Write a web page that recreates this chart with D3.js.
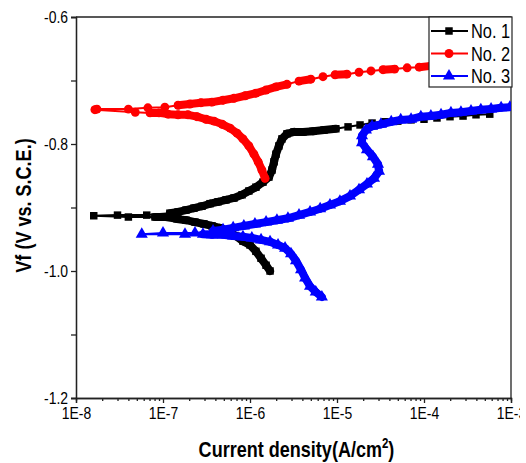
<!DOCTYPE html>
<html>
<head>
    <meta charset="utf-8">
    <title>Tafel curves</title>
    <script src="https://cdnjs.cloudflare.com/ajax/libs/d3/7.8.5/d3.min.js"></script>
    <style>
        body { margin: 0; background: #fff; }
        svg text { font-family: "Liberation Sans Narrow", "Arial Narrow", "Liberation Sans", Arial, sans-serif; fill: #000; }
    </style>
</head>

<body>

<script type="text/javascript">
    // data: current density (A/cm2) and potential (V vs SCE)
    var seriesNames = ["No. 1", "No. 2", "No. 3"];

    var no1Current = [1.7e-6, 1.53e-6, 1.34e-6, 1.17e-6, 1.0e-6, 8.3e-7, 6.9e-7, 5.6e-7, 4.5e-7, 3.66e-7,
        2.96e-7, 2.33e-7, 1.84e-7, 1.45e-7, 1.08e-7, 8.1e-8, 4.0e-8, 1.6e-8, 3.0e-8, 6.5e-8,
        1.2e-7, 1.49e-7, 1.84e-7, 2.27e-7, 2.81e-7, 3.47e-7, 4.29e-7, 5.3e-7, 6.55e-7, 8.1e-7,
        9.7e-7, 1.17e-6, 1.41e-6, 1.65e-6, 1.79e-6, 1.89e-6, 1.99e-6, 2.15e-6, 2.33e-6, 2.66e-6,
        3.2e-6, 4.07e-6, 5.3e-6, 7.1e-6, 9.7e-6, 1.34e-5, 1.84e-5, 2.53e-5, 3.56e-5, 5.0e-5,
        7.1e-5, 1.0e-4, 1.41e-4, 1.99e-4, 2.81e-4, 3.96e-4, 5.7e-4];
    var no1Potential = [-1.000, -0.991, -0.980, -0.969, -0.959, -0.953, -0.945, -0.937, -0.932, -0.929,
        -0.926, -0.923, -0.920, -0.918, -0.915, -0.915, -0.915, -0.913, -0.912, -0.912,
        -0.909, -0.907, -0.904, -0.901, -0.898, -0.894, -0.891, -0.888, -0.885, -0.880,
        -0.874, -0.868, -0.860, -0.852, -0.841, -0.828, -0.816, -0.803, -0.792, -0.784,
        -0.781, -0.781, -0.780, -0.778, -0.776, -0.773, -0.770, -0.767, -0.765, -0.764,
        -0.762, -0.761, -0.759, -0.757, -0.756, -0.754, -0.753];

    var no2Current = [1.49e-6, 1.37e-6, 1.24e-6, 1.11e-6, 9.7e-7, 8.3e-7, 7.1e-7, 5.9e-7, 4.8e-7, 3.86e-7,
        3.12e-7, 2.46e-7, 1.94e-7, 1.49e-7, 1.14e-7, 9.0e-8, 7.1e-8, 4.8e-8, 1.65e-8, 1.74e-8,
        4.0e-8, 6.7e-8, 1.05e-7, 1.49e-7, 2.04e-7, 2.73e-7, 3.66e-7, 4.9e-7, 6.55e-7, 8.8e-7,
        1.17e-6, 1.53e-6, 1.99e-6, 2.66e-6, 3.66e-6, 5.0e-6, 6.9e-6, 9.5e-6, 1.30e-5, 1.79e-5,
        2.46e-5, 3.38e-5, 4.6e-5, 6.4e-5, 8.8e-5, 1.20e-4, 1.74e-4, 2.46e-4, 3.38e-4, 4.6e-4,
        6.55e-4, 9.2e-4];
    var no2Potential = [-0.854, -0.841, -0.828, -0.816, -0.803, -0.792, -0.783, -0.775, -0.769, -0.764,
        -0.761, -0.757, -0.754, -0.754, -0.753, -0.751, -0.751, -0.750, -0.746, -0.745,
        -0.745, -0.743, -0.742, -0.739, -0.737, -0.735, -0.734, -0.731, -0.728, -0.724,
        -0.720, -0.715, -0.710, -0.706, -0.701, -0.698, -0.694, -0.691, -0.690, -0.687,
        -0.685, -0.683, -0.682, -0.680, -0.679, -0.677, -0.676, -0.674, -0.674, -0.672,
        -0.672, -0.671];

    var no3Current = [6.7e-6, 5.7e-6, 4.9e-6, 4.3e-6, 3.86e-6, 3.38e-6, 2.96e-6, 2.53e-6, 2.1e-6, 1.70e-6,
        1.34e-6, 1.05e-6, 8.3e-7, 6.4e-7, 4.9e-7, 3.66e-7, 2.88e-7, 1.79e-7, 5.7e-8, 1.0e-7,
        2.33e-7, 3.76e-7, 4.9e-7, 6.4e-7, 8.5e-7, 1.14e-6, 1.53e-6, 2.04e-6, 2.73e-6, 3.66e-6,
        4.9e-6, 6.4e-6, 8.3e-6, 1.08e-5, 1.41e-5, 1.79e-5, 2.21e-5, 2.66e-5, 3.04e-5, 2.96e-5,
        2.59e-5, 2.21e-5, 1.94e-5, 1.94e-5, 2.15e-5, 2.53e-5, 3.2e-5, 4.2e-5, 5.4e-5, 7.1e-5,
        9.2e-5, 1.20e-4, 1.57e-4, 2.04e-4, 2.66e-4, 3.47e-4, 4.5e-4, 5.9e-4, 7.7e-4, 9.7e-4];
    var no3Potential = [-1.041, -1.033, -1.024, -1.011, -0.998, -0.984, -0.973, -0.964, -0.959, -0.954,
        -0.951, -0.948, -0.946, -0.945, -0.943, -0.943, -0.942, -0.942, -0.942, -0.940,
        -0.940, -0.937, -0.935, -0.932, -0.929, -0.926, -0.923, -0.920, -0.917, -0.912,
        -0.907, -0.902, -0.896, -0.890, -0.882, -0.872, -0.863, -0.854, -0.843, -0.832,
        -0.820, -0.809, -0.798, -0.787, -0.778, -0.772, -0.769, -0.765, -0.762, -0.761,
        -0.757, -0.756, -0.754, -0.751, -0.750, -0.748, -0.746, -0.745, -0.743, -0.742];

    var xTickValues = [1e-8, 1e-7, 1e-6, 1e-5, 1e-4, 1e-3];
    var xTickLabels = ["1E-8", "1E-7", "1E-6", "1E-5", "1E-4", "1E-3"];
    var yTickValues = [-1.2, -1.0, -0.8, -0.6];
    var yMinorValues = [-1.1, -0.9, -0.7];

    var width = 520,
        height = 463,
        plotLeft = 76, plotRight = 511, plotTop = 17, plotBottom = 398,
        colors = ["#000000", "#ff0000", "#0000ff"],
        symbols = [d3.symbolSquare, d3.symbolCircle, d3.symbolTriangle],
        symbolSizes = [56, 62, 64],
        narrow = 0.82,  // the original uses a condensed face
        bandGap = 12;   // markers closer than this merge into a solid band

    var series = [
        {name: seriesNames[0], current: no1Current, potential: no1Potential},
        {name: seriesNames[1], current: no2Current, potential: no2Potential},
        {name: seriesNames[2], current: no3Current, potential: no3Potential}
    ];

    var svg = d3.select("body").append("svg")
        .attr("width", width)
        .attr("height", height);

    var x = d3.scaleLog().domain([1e-8, 1e-3]).range([plotLeft, plotRight]);
    var y = d3.scaleLinear().domain([-1.2, -0.6]).range([plotBottom, plotTop]);

    svg.append("defs").append("clipPath").attr("id", "plot")
        .append("rect")
        .attr("x", plotLeft).attr("y", plotTop)
        .attr("width", plotRight - plotLeft).attr("height", plotBottom - plotTop);

    // minor x ticks at 2..9 of every decade
    var xMinor = [];
    xTickValues.slice(0, -1).forEach(function(d){
        for (var k = 2; k <= 9; k++) xMinor.push(d * k);
    });

    svg.append("g")
        .attr("transform", "translate(0," + plotBottom + ")")
        .call(d3.axisBottom(x).tickValues(xMinor).tickSize(3).tickFormat(""));

    svg.append("g")
        .attr("class", "xaxis")
        .attr("transform", "translate(0," + plotBottom + ")")
        .call(d3.axisBottom(x)
            .tickValues(xTickValues)
            .tickSize(5)
            .tickPadding(4)
            .tickFormat(function(d, i){ return xTickLabels[i]; }));

    svg.append("g")
        .attr("transform", "translate(" + plotLeft + ",0)")
        .call(d3.axisLeft(y).tickValues(yMinorValues).tickSize(5).tickFormat(""));

    svg.append("g")
        .attr("class", "yaxis")
        .attr("transform", "translate(" + plotLeft + ",0)")
        .call(d3.axisLeft(y)
            .tickValues(yTickValues)
            .tickSize(5)
            .tickPadding(3)
            .tickFormat(function(d){ return d.toFixed(1); }));

    svg.selectAll(".domain, .tick line")
        .attr("stroke", "#222")
        .attr("stroke-width", 1.3);
    svg.selectAll(".xaxis text, .yaxis text")
        .style("font-size", "17px");

    // top and right frame
    svg.append("path")
        .attr("d", "M" + plotLeft + "," + plotTop + "H" + plotRight + "V" + plotBottom)
        .attr("fill", "none")
        .attr("stroke", "#222")
        .attr("stroke-width", 1.3);

    var plot = svg.append("g").attr("clip-path", "url(#plot)");

    series.forEach(function(s, si){
        var pts = s.current.map(function(c, i){ return [x(c), y(s.potential[i])]; });

        plot.append("path")
            .attr("d", d3.line()(pts))
            .attr("fill", "none")
            .attr("stroke", colors[si])
            .attr("stroke-width", 2);

        // dense runs of overlapping markers read as a thick band
        for (var i = 1; i < pts.length; i++) {
            var dx = pts[i][0] - pts[i - 1][0], dy = pts[i][1] - pts[i - 1][1];
            if (Math.sqrt(dx * dx + dy * dy) < bandGap) {
                plot.append("line")
                    .attr("x1", pts[i - 1][0]).attr("y1", pts[i - 1][1])
                    .attr("x2", pts[i][0]).attr("y2", pts[i][1])
                    .attr("stroke", colors[si])
                    .attr("stroke-width", 8)
                    .attr("stroke-linecap", "round");
            }
        }

        plot.selectAll(".m" + si)
            .data(pts)
            .enter().append("path")
            .attr("class", "m" + si)
            .attr("transform", function(d){ return "translate(" + d[0] + "," + d[1] + ")"; })
            .attr("d", d3.symbol().type(symbols[si]).size(symbolSizes[si]))
            .attr("fill", colors[si]);
    });

    // legend
    var legendLeft = 429;
    var legend = svg.append("g").attr("transform", "translate(" + legendLeft + "," + plotTop + ")");
    legend.append("rect")
        .attr("width", plotRight + 1 - legendLeft).attr("height", 70)
        .attr("fill", "#fff")
        .attr("stroke", "#222")
        .attr("stroke-width", 1.2);

    series.forEach(function(s, si){
        var g = legend.append("g").attr("transform", "translate(0," + (14 + si * 22.5) + ")");
        g.append("line")
            .attr("x1", 2).attr("x2", 39)
            .attr("stroke", colors[si]).attr("stroke-width", 2);
        g.append("path")
            .attr("transform", "translate(20,0)")
            .attr("d", d3.symbol().type(symbols[si]).size(symbolSizes[si]))
            .attr("fill", colors[si]);
        g.append("text")
            .attr("class", "squeeze")
            .attr("x", 42).attr("dy", "0.36em")
            .style("font-size", "20px")
            .text(s.name);
    });

    svg.selectAll(".xaxis text, .yaxis text").classed("squeeze", true);

    // y title
    svg.append("text")
        .attr("class", "squeeze")
        .attr("transform", "translate(31," + ((plotTop + plotBottom) / 2 - 2) + ") rotate(-90)")
        .attr("text-anchor", "middle")
        .style("font-size", "22px").style("font-weight", "bold")
        .text("Vf (V vs. S.C.E.)");

    // squeeze single-run labels to the condensed width of the original face
    svg.selectAll("text.squeeze").each(function(){
        var w = this.getComputedTextLength();
        if (w > 0) d3.select(this)
            .attr("textLength", w * narrow)
            .attr("lengthAdjust", "spacingAndGlyphs");
    });

    // x title has a superscript, so it is condensed with a transform instead
    var xt = svg.append("text")
        .attr("transform", "translate(" + ((plotLeft + plotRight) / 2 + 3) + ",457) scale(" + narrow + ",1)")
        .attr("text-anchor", "middle")
        .style("font-size", "22px").style("font-weight", "bold");
    xt.append("tspan").text("Current density(A/cm");
    xt.append("tspan").attr("dy", -9).style("font-size", "14px").text("2");
    xt.append("tspan").attr("dy", 9).text(")");
</script>

</body>
</html>
